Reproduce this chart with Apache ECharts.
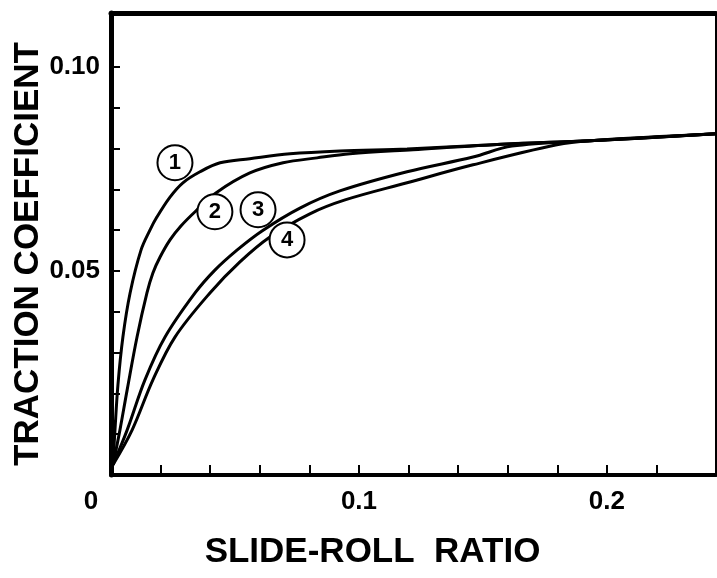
<!DOCTYPE html>
<html>
<head>
<meta charset="utf-8">
<script src="https://cdn.jsdelivr.net/npm/echarts@6/dist/echarts.min.js"></script>
<style>
  html, body { margin: 0; padding: 0; background: #fff; }
  #chart { width: 717px; height: 578px; }
</style>
</head>
<body>
<div id="chart"></div>
<script>
// ---- data ----
var curve1X = [0.0008, 0.0016, 0.0028, 0.0048, 0.0077, 0.0121, 0.0157, 0.0185, 0.0238, 0.0290, 0.0359, 0.0440, 0.0560, 0.0722, 0.0923, 0.1194, 0.1597, 0.1931, 0.2440];
var curve1Y = [0.0025, 0.0110, 0.0221, 0.0338, 0.0446, 0.0551, 0.0600, 0.0632, 0.0681, 0.0716, 0.0743, 0.0765, 0.0775, 0.0787, 0.0794, 0.0799, 0.0811, 0.0819, 0.0836];

var curve2X = [0.0008, 0.0036, 0.0065, 0.0105, 0.0145, 0.0169, 0.0198, 0.0238, 0.0282, 0.0339, 0.0423, 0.0560, 0.0694, 0.0831, 0.0964, 0.1218, 0.1597, 0.1931, 0.2440];
var curve2Y = [0.0025, 0.0110, 0.0208, 0.0338, 0.0446, 0.0495, 0.0534, 0.0576, 0.0610, 0.0645, 0.0691, 0.0740, 0.0765, 0.0777, 0.0787, 0.0797, 0.0811, 0.0819, 0.0836];

var curve3X = [0.0008, 0.0065, 0.0137, 0.0218, 0.0339, 0.0419, 0.0508, 0.0609, 0.0762, 0.0923, 0.1194, 0.1460, 0.1617, 0.1931, 0.2440];
var curve3Y = [0.0025, 0.0110, 0.0233, 0.0338, 0.0446, 0.0502, 0.0551, 0.0598, 0.0654, 0.0696, 0.0743, 0.0779, 0.0806, 0.0819, 0.0836];

var curve4X = [0.0008, 0.0085, 0.0169, 0.0258, 0.0399, 0.0520, 0.0641, 0.0802, 0.0944, 0.1194, 0.1460, 0.1798, 0.1931, 0.2440];
var curve4Y = [0.0025, 0.0110, 0.0233, 0.0338, 0.0446, 0.0522, 0.0583, 0.0640, 0.0674, 0.0716, 0.0760, 0.0809, 0.0819, 0.0836];

var curveNames = ['1', '2', '3', '4'];
var labelX = [0.0258, 0.0419, 0.0593, 0.0710];
var labelY = [0.0765, 0.0645, 0.0650, 0.0576];

var xTickValues = [0.02, 0.04, 0.06, 0.08, 0.10, 0.12, 0.14, 0.16, 0.18, 0.20, 0.22];
var yTickValues = [0.01, 0.02, 0.03, 0.04, 0.05, 0.06, 0.07, 0.08, 0.09, 0.10];
var xLabelValues = [0, 0.1, 0.2];
var xLabelTexts = ['0', '0.1', '0.2'];
var yLabelValues = [0.05, 0.10];
var yLabelTexts = ['0.05', '0.10'];

var xTitle = 'SLIDE-ROLL  RATIO';
var yTitle = 'TRACTION COEFFICIENT';

// ---- chart ----
function pairs(xs, ys) {
  return xs.map(function (x, i) { return [x, ys[i]]; });
}
function lookup(values, texts, v) {
  for (var i = 0; i < values.length; i++) {
    if (Math.abs(values[i] - v) < 1e-9) return texts[i];
  }
  return '';
}

var allX = [curve1X, curve2X, curve3X, curve4X];
var allY = [curve1Y, curve2Y, curve3Y, curve4Y];
var FONT = '"Liberation Sans", Arial, Helvetica, sans-serif';

var series = allX.map(function (xs, i) {
  return {
    type: 'line',
    name: curveNames[i],
    xAxisIndex: 0, yAxisIndex: 0,
    data: pairs(xs, allY[i]),
    smooth: 0.35,
    showSymbol: false,
    lineStyle: { color: '#000', width: 3 },
    z: 2,
    markPoint: {
      symbol: 'circle',
      symbolSize: 35,
      itemStyle: { color: '#fff', borderColor: '#000', borderWidth: 2 },
      label: {
        show: true, position: 'inside', color: '#000',
        fontFamily: FONT, fontWeight: 'bold', fontSize: 22,
        formatter: function (p) { return p.name; }
      },
      data: [{ name: curveNames[i], coord: [labelX[i], labelY[i]] }],
      z: 5
    }
  };
});

var chart = echarts.init(document.getElementById('chart'), null, { renderer: 'canvas' });
chart.setOption({
  animation: false,
  backgroundColor: '#fff',
  grid: { left: 111, right: 1, top: 13, bottom: 103, containLabel: false, outerBoundsMode: 'none' },
  xAxis: [{
    type: 'value', min: 0, max: 0.244, interval: 0.02,
    name: xTitle, nameLocation: 'middle', nameGap: 60, nameMoveOverlap: false,
    nameTextStyle: { fontFamily: FONT, fontWeight: 'bold', fontSize: 35, color: '#000', padding: [0, 82, 0, 0] },
    axisLine: { show: true, onZero: false, lineStyle: { color: '#000', width: 4 } },
    axisTick: { show: true, inside: true, length: 10, customValues: xTickValues, lineStyle: { color: '#000', width: 2 } },
    splitLine: { show: false },
    axisLabel: {
      show: true, margin: 14, color: '#000', fontFamily: FONT, fontWeight: 'bold', fontSize: 26,
      customValues: xLabelValues,
      formatter: function (v) {
        var t = lookup(xLabelValues, xLabelTexts, v);
        if (t && Math.abs(v) < 1e-9) return '{z|' + t + '}';
        return t;
      },
      rich: { z: { fontFamily: FONT, fontWeight: 'bold', fontSize: 26, color: '#000', padding: [0, 40, 0, 0] } }
    }
  }, {
    type: 'value', position: 'top', min: 0, max: 0.244,
    axisLine: { show: true, onZero: false, lineStyle: { color: '#000', width: 5 } },
    axisTick: { show: false }, axisLabel: { show: false }, splitLine: { show: false }
  }],
  yAxis: [{
    type: 'value', min: 0, max: 0.1132, interval: 0.01,
    name: yTitle, nameLocation: 'middle', nameGap: 65, nameMoveOverlap: false,
    nameTextStyle: { fontFamily: FONT, fontWeight: 'bold', fontSize: 35, color: '#000', padding: [0, 20, 0, 0] },
    axisLine: { show: true, onZero: false, lineStyle: { color: '#000', width: 5 } },
    axisTick: { show: true, inside: true, length: 9, customValues: yTickValues, lineStyle: { color: '#000', width: 2 } },
    splitLine: { show: false },
    axisLabel: {
      show: true, margin: 11, color: '#000', fontFamily: FONT, fontWeight: 'bold', fontSize: 26,
      customValues: yLabelValues,
      formatter: function (v) { return lookup(yLabelValues, yLabelTexts, v); }
    }
  }, {
    type: 'value', position: 'right', min: 0, max: 0.1132,
    axisLine: { show: true, onZero: false, lineStyle: { color: '#000', width: 2 } },
    axisTick: { show: false }, axisLabel: { show: false }, splitLine: { show: false }
  }],
  series: series
});
</script>
</body>
</html>
